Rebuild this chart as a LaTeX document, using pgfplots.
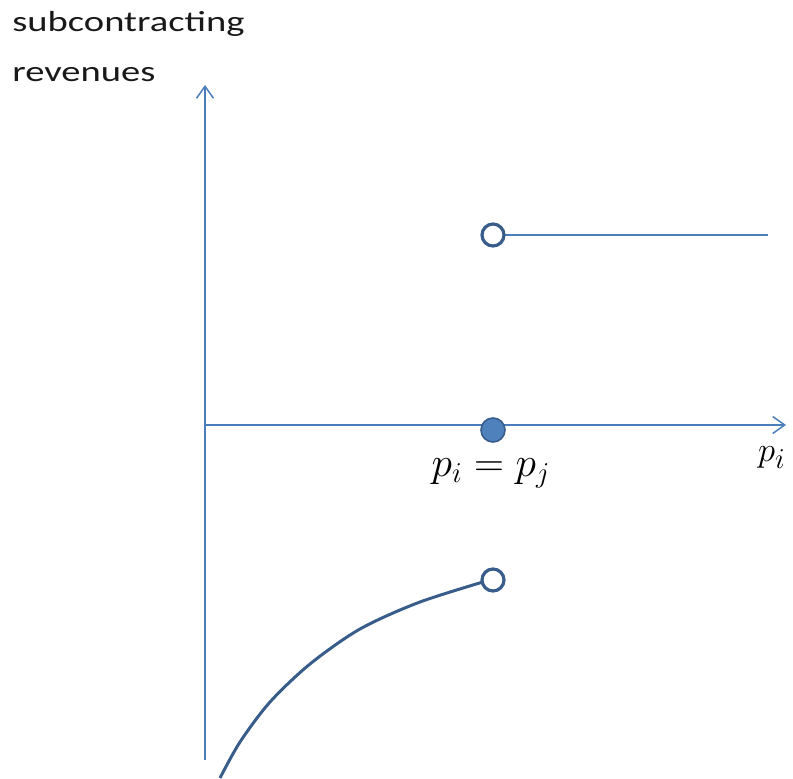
\documentclass[border=0pt]{standalone}
\usepackage{fontspec}
\setmainfont{Carlito}[FakeStretch=1.33]
\usepackage{pgfplots}
\pgfplotsset{compat=1.18}
\usetikzlibrary{arrows.meta}

\definecolor{axisblue}{HTML}{4A7EBB}
\definecolor{darkblue}{HTML}{385D8A}
\definecolor{fillblue}{HTML}{4F81BD}

\begin{document}
\begin{tikzpicture}
\begin{axis}[
  scale only axis,
  width=396.5pt, height=389pt,
  xmin=0, xmax=793, ymin=0, ymax=778,
  axis lines=none,
  clip=false,
]
% axes
\addplot[axisblue, line width=0.75pt, -{Straight Barb[length=6pt,width=8.5pt]}]
  coordinates {(205,18) (205,693)};
\addplot[axisblue, line width=0.75pt, -{Straight Barb[length=6pt,width=8.5pt]}]
  coordinates {(205,353) (786,353)};

% upper branch
\addplot[axisblue, line width=0.75pt] coordinates {(493,543) (768,543)};

% lower branch
\addplot[darkblue, line width=1.5pt, smooth] coordinates {
  (220,0) (240,36) (270,76) (310,114) (360,149) (420,176) (493,199)};

% open circles
\addplot[only marks, mark=*, mark size=5.5pt,
  mark options={draw=darkblue, fill=white, line width=1.6pt}]
  coordinates {(493,543) (493,198)};
% filled circle
\addplot[only marks, mark=*, mark size=6pt,
  mark options={draw=darkblue, fill=fillblue, line width=0.8pt}]
  coordinates {(493,348)};

% labels
\node[anchor=base west, text=black!90, font=\fontsize{14.5}{17}\selectfont, inner sep=0pt]
  at (axis cs:12,746) {subcontracting};
\node[anchor=base west, text=black!90, font=\fontsize{14.5}{17}\selectfont, inner sep=0pt]
  at (axis cs:12,696) {revenues};
\node[font=\fontsize{20.5}{24}\selectfont, inner sep=0pt] at (axis cs:491,305) {$p_i = p_j$};
\node[font=\fontsize{19}{22}\selectfont, inner sep=0pt] at (axis cs:772,320) {$p_i$};
\end{axis}
\pgfresetboundingbox
\path (current axis.south west) rectangle (current axis.north east);
\end{tikzpicture}
\end{document}
